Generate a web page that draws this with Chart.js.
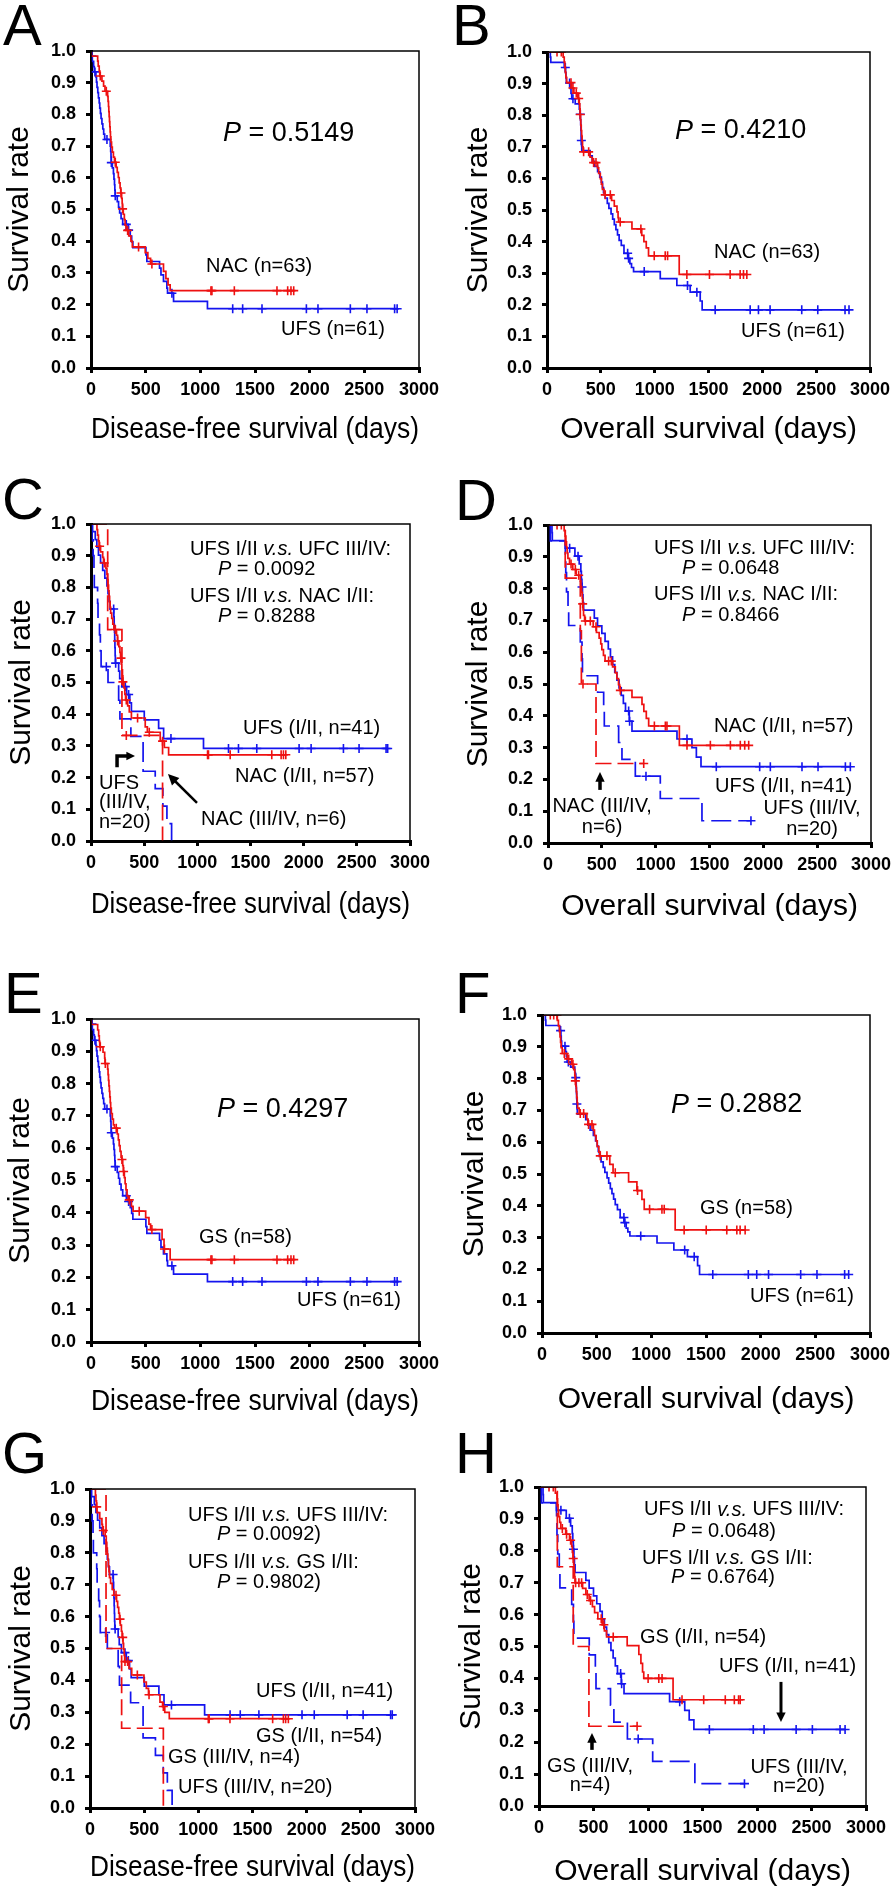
<!DOCTYPE html>
<html>
<head>
<meta charset="utf-8">
<script src="https://cdn.jsdelivr.net/npm/chart.js@4.4.1/dist/chart.umd.min.js"></script>
<style>
    body { margin: 0; background: #fff; width: 894px; height: 1891px; position: relative; overflow: hidden; font-family: "Liberation Sans", Arial, sans-serif; }
    canvas { position: absolute; }
    .letra { position: absolute; font-size: 58px; line-height: 58px; color: #000; }
</style>
</head>
<body>
<div class="letra" style="left:3px;top:-4px">A</div>
<div class="letra" style="left:452px;top:-4px">B</div>
<div class="letra" style="left:2px;top:470px">C</div>
<div class="letra" style="left:455px;top:471px">D</div>
<div class="letra" style="left:4px;top:964px">E</div>
<div class="letra" style="left:455px;top:964px">F</div>
<div class="letra" style="left:2px;top:1424px">G</div>
<div class="letra" style="left:455px;top:1424px">H</div>

<script>
// ticks
const X_TICKS = [0, 500, 1000, 1500, 2000, 2500, 3000];
const Y_TICKS = [0, 0.1, 0.2, 0.3, 0.4, 0.5, 0.6, 0.7, 0.8, 0.9, 1.0];
const Y_LABELS = ['0.0', '0.1', '0.2', '0.3', '0.4', '0.5', '0.6', '0.7', '0.8', '0.9', '1.0'];

// Kaplan-Meier steps: [day, survival after the event]; censored days listed apart
const ufsDfs = [[0,1],[3,0.984],[12,0.967],[24,0.951],[30,0.934],[45,0.918],[50,0.902],[55,0.885],[62,0.869],[68,0.852],[75,0.836],[80,0.820],[86,0.803],[92,0.787],[100,0.770],[108,0.754],[116,0.738],[125,0.721],[176,0.700],[180,0.683],[183,0.665],[185,0.648],[195,0.631],[205,0.613],[210,0.596],[215,0.578],[218,0.561],[221,0.543],[240,0.525],[252,0.507],[262,0.489],[275,0.471],[290,0.453],[340,0.435],[359,0.416],[372,0.398],[383,0.380],[502,0.357],[511,0.336],[627,0.315],[640,0.294],[663,0.273],[694,0.252],[700,0.236],[755,0.210],[1065,0.187]];
const ufsDfsCens = [9,36,146,186,222,323,344,740,1296,1387,1564,1970,2076,2372,2524,2777,2800];

const nacDfs = [[0,1],[3,0.984],[61,0.968],[66,0.952],[75,0.937],[80,0.921],[100,0.905],[115,0.889],[128,0.873],[152,0.857],[156,0.841],[160,0.825],[163,0.809],[166,0.793],[169,0.777],[172,0.761],[175,0.745],[178,0.729],[182,0.713],[188,0.697],[195,0.681],[205,0.665],[215,0.649],[230,0.633],[240,0.617],[250,0.601],[258,0.584],[266,0.568],[272,0.552],[280,0.535],[285,0.519],[288,0.502],[295,0.485],[305,0.468],[312,0.451],[320,0.434],[345,0.417],[365,0.400],[378,0.382],[496,0.364],[520,0.346],[545,0.328],[663,0.305],[685,0.282],[705,0.262],[724,0.244]];
const nacDfsCens = [85,140,222,274,289,335,435,557,1097,1106,1311,1701,1799,1829,1854];

const gsDfs = [[0,1],[3,0.983],[61,0.966],[70,0.948],[76,0.931],[80,0.914],[110,0.897],[125,0.879],[128,0.862],[152,0.845],[156,0.828],[160,0.810],[164,0.793],[168,0.776],[172,0.759],[176,0.741],[180,0.724],[186,0.707],[195,0.690],[205,0.672],[215,0.662],[240,0.644],[250,0.626],[258,0.608],[266,0.590],[275,0.572],[282,0.565],[290,0.546],[296,0.528],[305,0.509],[312,0.490],[320,0.471],[330,0.452],[340,0.440],[370,0.420],[385,0.405],[500,0.385],[530,0.365],[545,0.348],[650,0.318],[668,0.288],[724,0.255]];
const gsDfsCens = [85,131,231,283,298,350,441,557,672,1097,1106,1311,1701,1799,1829,1854];

const ufsOs = [[0,1],[31,0.984],[35,0.967],[160,0.951],[172,0.934],[176,0.918],[180,0.902],[215,0.885],[223,0.869],[230,0.852],[262,0.836],[300,0.819],[305,0.803],[310,0.786],[313,0.770],[315,0.753],[317,0.737],[319,0.720],[321,0.704],[323,0.688],[400,0.671],[420,0.654],[440,0.638],[470,0.621],[490,0.604],[505,0.588],[515,0.571],[525,0.555],[540,0.538],[560,0.521],[575,0.505],[595,0.488],[610,0.471],[625,0.454],[640,0.438],[655,0.421],[670,0.404],[690,0.388],[715,0.363],[752,0.347],[770,0.330],[785,0.318],[804,0.305],[1052,0.283],[1206,0.261],[1330,0.240],[1423,0.212],[1441,0.184]];
const ufsOsCens = [170,210,241,309,319,749,758,903,1305,1392,1562,1887,1964,2072,2366,2515,2768,2805];

const nacOs = [[0,1],[150,0.984],[160,0.968],[166,0.952],[170,0.936],[175,0.920],[182,0.903],[228,0.886],[250,0.870],[285,0.853],[300,0.836],[305,0.819],[308,0.802],[311,0.785],[314,0.768],[318,0.751],[322,0.734],[326,0.717],[330,0.700],[335,0.684],[400,0.667],[420,0.650],[470,0.633],[480,0.616],[495,0.599],[505,0.582],[515,0.565],[530,0.548],[600,0.530],[625,0.512],[650,0.494],[660,0.476],[665,0.462],[789,0.440],[880,0.420],[900,0.400],[922,0.380],[943,0.355],[1228,0.296]];
const nacOsCens = [93,133,223,241,272,294,309,340,387,433,455,541,588,680,872,996,1098,1120,1299,1509,1701,1794,1825,1856];

const gsOs = [[0,1],[140,0.983],[150,0.966],[160,0.948],[165,0.931],[170,0.914],[175,0.897],[185,0.879],[230,0.862],[270,0.845],[290,0.828],[300,0.810],[305,0.793],[310,0.776],[314,0.759],[318,0.741],[322,0.724],[326,0.707],[340,0.690],[410,0.673],[420,0.656],[470,0.638],[480,0.621],[495,0.604],[505,0.586],[520,0.569],[530,0.557],[620,0.530],[650,0.504],[792,0.475],[868,0.448],[914,0.420],[935,0.389],[1218,0.324]];
const gsOsCens = [76,107,137,204,244,283,305,350,381,426,457,533,594,670,874,984,1097,1118,1300,1502,1690,1782,1812,1858];

const ufsDfs12 = [[0,1],[15,0.976],[40,0.951],[55,0.927],[70,0.902],[90,0.878],[110,0.854],[130,0.829],[150,0.805],[160,0.780],[170,0.756],[180,0.732],[215,0.707],[218,0.683],[221,0.659],[223,0.634],[225,0.610],[227,0.585],[229,0.561],[260,0.536],[270,0.512],[290,0.487],[335,0.462],[365,0.436],[380,0.409],[501,0.382],[636,0.355],[683,0.323],[1058,0.292]];
const ufsDfs12Cens = [8,213,232,323,354,752,1293,1387,1559,1957,2070,2374,2521,2775,2790];

const ufsDfs34 = [[0,1],[10,0.95],[20,0.9],[28,0.85],[31,0.8],[62,0.75],[66,0.7],[80,0.65],[88,0.6],[95,0.55],[160,0.5],[260,0.444],[272,0.385],[375,0.33],[490,0.22],[604,0.165],[676,0.11],[714,0.055],[758,0]];
const ufsDfs34Cens = [144];

const nacDfs12 = [[0,1],[56,0.982],[62,0.965],[70,0.947],[76,0.930],[90,0.912],[110,0.895],[118,0.877],[140,0.860],[150,0.842],[155,0.825],[160,0.807],[165,0.789],[170,0.772],[175,0.754],[180,0.737],[185,0.719],[195,0.702],[205,0.684],[215,0.667],[240,0.649],[250,0.631],[262,0.613],[272,0.595],[278,0.577],[285,0.558],[290,0.540],[296,0.521],[300,0.502],[310,0.483],[318,0.464],[325,0.445],[345,0.426],[360,0.407],[380,0.388],[510,0.360],[530,0.343],[651,0.315],[690,0.295],[730,0.272]];
const nacDfs12Cens = [81,125,229,250,282,300,332,438,548,673,1096,1105,1309,1700,1788,1810,1832];

const nacDfs34 = [[0,1],[157,0.667],[291,0.333],[673,0]];
const nacDfs34Cens = [332];

const gsDfs12 = [[0,1],[50,0.981],[55,0.963],[60,0.944],[65,0.926],[90,0.907],[110,0.889],[115,0.870],[140,0.852],[150,0.833],[155,0.815],[160,0.796],[165,0.778],[170,0.759],[175,0.741],[180,0.722],[190,0.704],[205,0.685],[220,0.667],[245,0.648],[255,0.629],[265,0.611],[272,0.592],[280,0.573],[290,0.554],[296,0.535],[305,0.516],[310,0.497],[316,0.478],[320,0.459],[360,0.438],[385,0.417],[498,0.395],[520,0.375],[540,0.355],[646,0.332],[670,0.318],[690,0.300],[732,0.280]];
const gsDfs12Cens = [62,123,240,277,302,323,347,437,545,677,1092,1100,1292,1686,1785,1806,1831];

const gsDfs34 = [[0,1],[148,0.5],[292,0.25],[677,0]];
const gsDfs34Cens = [];

const ufsOs12 = [[0,1],[37,0.976],[40,0.951],[160,0.927],[250,0.902],[290,0.878],[305,0.854],[310,0.829],[315,0.805],[320,0.780],[325,0.756],[331,0.732],[430,0.707],[460,0.683],[500,0.659],[530,0.634],[560,0.610],[580,0.585],[600,0.561],[620,0.537],[640,0.512],[660,0.488],[680,0.464],[700,0.439],[720,0.415],[755,0.383],[780,0.352],[1198,0.327],[1337,0.300],[1378,0.270],[1421,0.240]];
const ufsOs12Cens = [201,279,316,749,758,1291,1563,1966,2065,2359,2508,2762,2808];

const ufsOs34 = [[0,1],[22,0.95],[161,0.9],[165,0.85],[172,0.79],[186,0.737],[192,0.684],[300,0.632],[316,0.579],[320,0.526],[461,0.474],[517,0.421],[523,0.368],[656,0.316],[687,0.263],[811,0.21],[1043,0.14],[1430,0.07]];
const ufsOs34Cens = [910,1885];

const nacOs12 = [[0,1],[150,0.982],[160,0.965],[166,0.947],[172,0.930],[178,0.912],[185,0.895],[200,0.877],[230,0.860],[262,0.842],[300,0.824],[305,0.806],[312,0.788],[318,0.770],[322,0.752],[326,0.734],[330,0.716],[340,0.698],[420,0.680],[450,0.662],[475,0.644],[490,0.626],[500,0.608],[515,0.590],[530,0.572],[600,0.554],[625,0.535],[640,0.517],[655,0.498],[665,0.480],[780,0.458],[873,0.436],[890,0.414],[913,0.392],[935,0.368],[1220,0.307]];
const nacOs12Cens = [84,124,214,254,285,322,347,393,446,563,588,672,988,1090,1105,1291,1508,1694,1786,1827,1864];

const nacOs34 = [[0,1],[160,0.833],[300,0.667],[310,0.5],[446,0.25]];
const nacOs34Cens = [325,889];

const gsOs12 = [[0,1],[150,0.981],[165,0.963],[170,0.944],[175,0.926],[180,0.907],[190,0.889],[200,0.870],[245,0.852],[280,0.833],[300,0.814],[306,0.795],[312,0.776],[318,0.757],[322,0.738],[326,0.719],[330,0.700],[400,0.682],[430,0.663],[460,0.644],[490,0.625],[510,0.606],[540,0.587],[580,0.568],[600,0.549],[620,0.530],[809,0.503],[916,0.475],[935,0.447],[950,0.420],[961,0.400],[1230,0.333]];
const gsOs12Cens = [92,131,214,253,290,314,336,366,391,443,473,571,595,681,1001,1099,1129,1312,1511,1709,1792,1831,1846];

const gsOs34 = [[0,1],[168,0.75],[314,0.5],[458,0.25]];
const gsOs34Cens = [900];

const ROJO = '#ee1111';
const AZUL = '#1414ee';
const FUENTE = '"Liberation Sans", Arial, sans-serif';
const DFS = 'Disease-free survival (days)';
const OS = 'Overall survival (days)';
const RAYA_ROJA = [16, 6];
const RAYA_AZUL = [20, 7];

const paneles = [
    { lienzo: [2, 29, 445, 419], yW: 89, xH: 80, padTop: 22, padRight: 28, titulo: DFS,
      series: [
          { d: nacDfs, c: nacDfsCens, col: ROJO },
          { d: ufsDfs, c: ufsDfsCens, col: AZUL }
      ],
      notas: [
          { t: '_P_ = 0.5149', x: 1207, y: 0.741, size: 27 },
          { t: 'NAC (n=63)', x: 1052, y: 0.319 },
          { t: 'UFS (n=61)', x: 1738, y: 0.123 }
      ] },
    { lienzo: [461, 30, 437, 418], yW: 86, xH: 80, padTop: 22, padRight: 28, titulo: OS,
      series: [
          { d: nacOs, c: nacOsCens, col: ROJO },
          { d: ufsOs, c: ufsOsCens, col: AZUL }
      ],
      notas: [
          { t: '_P_ = 0.4210', x: 1189, y: 0.75, size: 27 },
          { t: 'NAC (n=63)', x: 1551, y: 0.367 },
          { t: 'UFS (n=61)', x: 1802, y: 0.117 }
      ] },
    { lienzo: [4, 502, 443, 421], yW: 87, xH: 82, padTop: 22, padRight: 37, titulo: DFS,
      series: [
          { d: nacDfs34, c: nacDfs34Cens, col: ROJO, dash: RAYA_ROJA },
          { d: nacDfs12, c: nacDfs12Cens, col: ROJO },
          { d: ufsDfs34, c: ufsDfs34Cens, col: AZUL, dash: RAYA_AZUL },
          { d: ufsDfs12, c: ufsDfs12Cens, col: AZUL }
      ],
      notas: [
          { t: 'UFS I/II _v.s._ UFC III/IV:', x: 931, y: 0.921 },
          { t: '_P_ = 0.0092', x: 1194, y: 0.858 },
          { t: 'UFS I/II _v.s._ NAC I/II:', x: 931, y: 0.770 },
          { t: '_P_ = 0.8288', x: 1194, y: 0.707 },
          { t: 'UFS (I/II, n=41)', x: 1429, y: 0.356 },
          { t: 'NAC (I/II, n=57)', x: 1354, y: 0.202 },
          { t: 'UFS', x: 75, y: 0.183 },
          { t: '(III/IV,', x: 75, y: 0.12 },
          { t: 'n=20)', x: 75, y: 0.057 },
          { t: 'NAC (III/IV, n=6)', x: 1034, y: 0.069 }
      ],
      flechas: [
          { pts: [[245, 0.233], [245, 0.268], [414, 0.268]], w: 3.5, head: 8 },
          { pts: [[997, 0.12], [724, 0.211]], w: 2.5, head: 10 }
      ] },
    { lienzo: [461, 503, 438, 422], yW: 87, xH: 82, padTop: 22, padRight: 28, titulo: OS,
      series: [
          { d: nacOs34, c: nacOs34Cens, col: ROJO, dash: RAYA_ROJA },
          { d: nacOs12, c: nacOs12Cens, col: ROJO },
          { d: ufsOs34, c: ufsOs34Cens, col: AZUL, dash: RAYA_AZUL },
          { d: ufsOs12, c: ufsOs12Cens, col: AZUL }
      ],
      notas: [
          { t: 'UFS I/II _v.s._ UFC III/IV:', x: 985, y: 0.925 },
          { t: '_P_ = 0.0648', x: 1245, y: 0.862 },
          { t: 'UFS I/II _v.s._ NAC I/II:', x: 985, y: 0.780 },
          { t: '_P_ = 0.8466', x: 1245, y: 0.717 },
          { t: 'NAC (I/II, n=57)', x: 1542, y: 0.365 },
          { t: 'UFS (I/II, n=41)', x: 1551, y: 0.179 },
          { t: 'UFS (III/IV,', x: 2452, y: 0.107, align: 'center' },
          { t: 'n=20)', x: 2452, y: 0.044, align: 'center' },
          { t: 'NAC (III/IV,', x: 502, y: 0.116, align: 'center' },
          { t: 'n=6)', x: 502, y: 0.05, align: 'center' }
      ],
      flechas: [
          { pts: [[483, 0.167], [483, 0.223]], w: 3.5, head: 9 }
      ] },
    { lienzo: [3, 997, 444, 423], yW: 88, xH: 78, padTop: 22, padRight: 28, titulo: DFS,
      series: [
          { d: gsDfs, c: gsDfsCens, col: ROJO },
          { d: ufsDfs, c: ufsDfsCens, col: AZUL }
      ],
      notas: [
          { t: '_P_ = 0.4297', x: 1152, y: 0.721, size: 27 },
          { t: 'GS (n=58)', x: 988, y: 0.325 },
          { t: 'UFS (n=61)', x: 1884, y: 0.127 }
      ] },
    { lienzo: [457, 993, 441, 425], yW: 85, xH: 85, padTop: 22, padRight: 28, titulo: OS,
      series: [
          { d: gsOs, c: gsOsCens, col: ROJO },
          { d: ufsOs, c: ufsOsCens, col: AZUL }
      ],
      notas: [
          { t: '_P_ = 0.2882', x: 1180, y: 0.717, size: 27 },
          { t: 'GS (n=58)', x: 1445, y: 0.393 },
          { t: 'UFS (n=61)', x: 1902, y: 0.116 }
      ] },
    { lienzo: [4, 1467, 443, 419], yW: 86, xH: 78, padTop: 22, padRight: 32, titulo: DFS,
      series: [
          { d: gsDfs34, c: gsDfs34Cens, col: ROJO, dash: RAYA_ROJA },
          { d: gsDfs12, c: gsDfs12Cens, col: ROJO },
          { d: ufsDfs34, c: ufsDfs34Cens, col: AZUL, dash: RAYA_AZUL },
          { d: ufsDfs12, c: ufsDfs12Cens, col: AZUL }
      ],
      notas: [
          { t: 'UFS I/II _v.s._ UFS III/IV:', x: 905, y: 0.918 },
          { t: '_P_ = 0.0092)', x: 1172, y: 0.856 },
          { t: 'UFS I/II _v.s._ GS I/II:', x: 905, y: 0.771 },
          { t: '_P_ = 0.9802)', x: 1172, y: 0.708 },
          { t: 'UFS (I/II, n=41)', x: 1532, y: 0.364 },
          { t: 'GS (I/II, n=54)', x: 1532, y: 0.223 },
          { t: 'GS (III/IV, n=4)', x: 720, y: 0.157 },
          { t: 'UFS (III/IV, n=20)', x: 812, y: 0.063 }
      ] },
    { lienzo: [454, 1465, 440, 425], yW: 85, xH: 84, padTop: 22, padRight: 28, titulo: OS,
      series: [
          { d: gsOs34, c: gsOs34Cens, col: ROJO, dash: RAYA_ROJA },
          { d: gsOs12, c: gsOs12Cens, col: ROJO },
          { d: ufsOs34, c: ufsOs34Cens, col: AZUL, dash: RAYA_AZUL },
          { d: ufsOs12, c: ufsOs12Cens, col: AZUL }
      ],
      notas: [
          { t: 'UFS I/II _v.s._ UFS III/IV:', x: 963, y: 0.928 },
          { t: '_P_ = 0.0648)', x: 1220, y: 0.862 },
          { t: 'UFS I/II _v.s._ GS I/II:', x: 945, y: 0.777 },
          { t: '_P_ = 0.6764)', x: 1211, y: 0.715 },
          { t: 'GS (I/II, n=54)', x: 927, y: 0.527 },
          { t: 'UFS (I/II, n=41)', x: 1651, y: 0.436 },
          { t: 'GS (III/IV,', x: 468, y: 0.125, align: 'center' },
          { t: 'n=4)', x: 468, y: 0.063, align: 'center' },
          { t: 'UFS (III/IV,', x: 2385, y: 0.122, align: 'center' },
          { t: 'n=20)', x: 2385, y: 0.06, align: 'center' }
      ],
      flechas: [
          { pts: [[2220, 0.389], [2220, 0.263]], w: 3, head: 9 },
          { pts: [[486, 0.176], [486, 0.229]], w: 3.5, head: 9 }
      ] }
];

function supervivenciaEn(pasos, t) {
    let s = 1;
    for (const [tt, ss] of pasos) {
        if (tt <= t) s = ss; else break;
    }
    return s;
}

function datosCurva(pasos, cens) {
    const pts = pasos.map(([t, s]) => ({ x: t, y: s }));
    const ultimo = pasos[pasos.length - 1];
    const fin = cens.length ? Math.max(...cens) : 0;
    if (fin > ultimo[0]) pts.push({ x: fin, y: ultimo[1] });
    return pts;
}

function textoRico(ctx, texto, px, py, size, align) {
    const partes = texto.split('_').map((s, i) => ({ s, it: i % 2 === 1 }));
    const fuente = it => (it ? 'italic ' : '') + size + 'px ' + FUENTE;
    let ancho = 0;
    partes.forEach(p => {
        ctx.font = fuente(p.it);
        p.w = ctx.measureText(p.s).width;
        ancho += p.w;
    });
    let cx = align === 'center' ? px - ancho / 2 : px;
    ctx.fillStyle = '#000';
    ctx.textBaseline = 'middle';
    ctx.textAlign = 'left';
    partes.forEach(p => {
        ctx.font = fuente(p.it);
        ctx.fillText(p.s, cx, py);
        cx += p.w;
    });
}

function dibujarFlecha(ctx, pts, w, head) {
    const n = pts.length;
    const [x1, y1] = pts[n - 2];
    const [x2, y2] = pts[n - 1];
    const ang = Math.atan2(y2 - y1, x2 - x1);
    ctx.strokeStyle = '#000';
    ctx.fillStyle = '#000';
    ctx.lineWidth = w;
    ctx.lineJoin = 'miter';
    ctx.beginPath();
    ctx.moveTo(pts[0][0], pts[0][1]);
    for (let i = 1; i < n - 1; i++) ctx.lineTo(pts[i][0], pts[i][1]);
    ctx.lineTo(x2 - Math.cos(ang) * head * 0.8, y2 - Math.sin(ang) * head * 0.8);
    ctx.stroke();
    ctx.beginPath();
    ctx.moveTo(x2, y2);
    ctx.lineTo(x2 - Math.cos(ang - 0.45) * head * 1.2, y2 - Math.sin(ang - 0.45) * head * 1.2);
    ctx.lineTo(x2 - Math.cos(ang + 0.45) * head * 1.2, y2 - Math.sin(ang + 0.45) * head * 1.2);
    ctx.closePath();
    ctx.fill();
}

const extras = {
    id: 'extras',
    afterDraw(chart) {
        const o = chart.options.plugins.extras;
        const { ctx, chartArea: a, scales: { x, y } } = chart;
        ctx.save();
        ctx.strokeStyle = '#000';
        ctx.lineWidth = 1.5;
        ctx.strokeRect(a.left, a.top, a.right - a.left, a.bottom - a.top);
        (o.flechas || []).forEach(f => {
            const pts = f.pts.map(p => [x.getPixelForValue(p[0]), y.getPixelForValue(p[1])]);
            dibujarFlecha(ctx, pts, f.w, f.head);
        });
        (o.notas || []).forEach(n => {
            textoRico(ctx, n.t, x.getPixelForValue(n.x), y.getPixelForValue(n.y), n.size || 20, n.align || 'left');
        });
        ctx.restore();
    }
};

Chart.defaults.font.family = FUENTE;
Chart.defaults.color = '#000';

function crearPanel(p) {
    const canvas = document.createElement('canvas');
    const [l, t, w, h] = p.lienzo;
    canvas.width = w;
    canvas.height = h;
    canvas.style.left = l + 'px';
    canvas.style.top = t + 'px';
    canvas.style.width = w + 'px';
    canvas.style.height = h + 'px';
    document.body.appendChild(canvas);

    const datasets = [];
    p.series.forEach(s => {
        datasets.push({
            data: datosCurva(s.d, s.c),
            borderColor: s.col,
            borderWidth: 1.7,
            borderDash: s.dash || [],
            stepped: 'before',
            pointRadius: 0,
            fill: false
        });
        datasets.push({
            data: s.c.map(tc => ({ x: tc, y: supervivenciaEn(s.d, tc) })),
            showLine: false,
            pointStyle: 'cross',
            pointRadius: 4.5,
            pointBorderWidth: 1.6,
            borderColor: s.col,
            pointBorderColor: s.col
        });
    });

    return new Chart(canvas.getContext('2d'), {
        type: 'line',
        data: { datasets },
        plugins: [extras],
        options: {
            responsive: false,
            animation: false,
            layout: { padding: { left: 0, top: p.padTop, right: p.padRight, bottom: 0 } },
            plugins: {
                legend: { display: false },
                tooltip: { enabled: false },
                extras: { notas: p.notas, flechas: p.flechas }
            },
            scales: {
                x: {
                    type: 'linear',
                    min: 0,
                    max: 3000,
                    afterBuildTicks: s => { s.ticks = X_TICKS.map(v => ({ value: v })); },
                    afterFit: s => { s.height = p.xH; },
                    ticks: { font: { size: 18, weight: 'bold' }, padding: 6, maxRotation: 0, callback: v => String(v) },
                    grid: { display: true, drawOnChartArea: false, drawTicks: true, tickLength: 5, color: '#000', lineWidth: 3 },
                    border: { display: true, color: '#000', width: 3 },
                    title: { display: true, text: p.titulo, font: { size: 30 }, padding: 0 }
                },
                y: {
                    type: 'linear',
                    min: 0,
                    max: 1,
                    afterBuildTicks: s => { s.ticks = Y_TICKS.map(v => ({ value: v })); },
                    afterFit: s => { s.width = p.yW; },
                    ticks: { font: { size: 18, weight: 'bold' }, padding: 10, callback: (v, i) => Y_LABELS[i] },
                    grid: { display: true, drawOnChartArea: false, drawTicks: true, tickLength: 5, color: '#000', lineWidth: 3 },
                    border: { display: true, color: '#000', width: 3 },
                    title: { display: true, text: 'Survival rate', font: { size: 30 }, padding: 0 }
                }
            }
        }
    });
}

paneles.forEach(crearPanel);
</script>
</body>
</html>
